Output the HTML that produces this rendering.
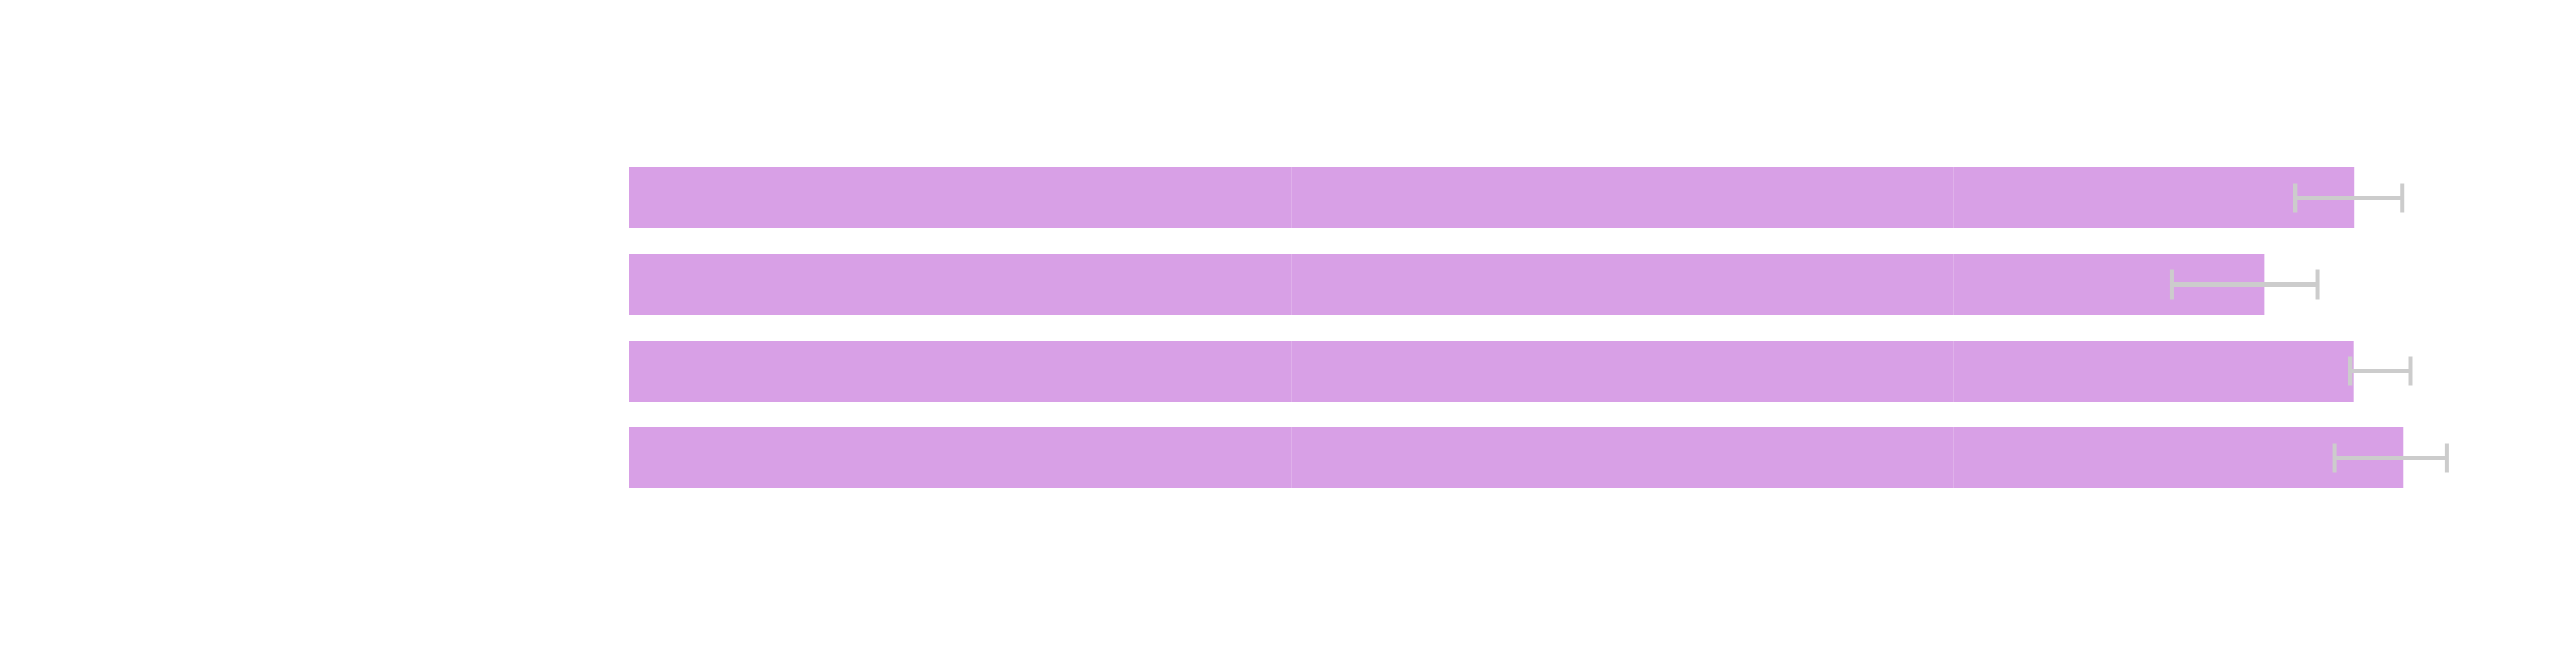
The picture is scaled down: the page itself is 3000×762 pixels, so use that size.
<!DOCTYPE html>
<html><head><meta charset="utf-8">
<style>html,body{margin:0;padding:0;background:#fff;}svg{display:block;}</style>
</head><body>
<svg id="chart" width="3000" height="762" xmlns="http://www.w3.org/2000/svg"></svg>
<script>
const categories = ["a", "b", "c", "d"];
const values = [26.06, 24.7, 26.04, 26.8];
const errLow = [25.16, 23.3, 25.99, 25.76];
const errHigh = [26.78, 25.5, 26.9, 27.45];
const gridTicks = [10, 20];

const svg = document.getElementById('chart');
const NS = 'http://www.w3.org/2000/svg';
const x0 = 733, pxPerUnit = 77.1;
const xScale = v => x0 + v * pxPerUnit;
const bandTop = 195, bandStep = 101, barH = 71;
const yScale = i => bandTop + i * bandStep;

function mk(tag, attrs) {
  const e = document.createElementNS(NS, tag);
  for (const k in attrs) e.setAttribute(k, attrs[k]);
  svg.appendChild(e);
  return e;
}

categories.forEach((c, i) => {
  const r = mk('rect', {x: x0, y: yScale(i), width: xScale(values[i]) - x0, height: barH, fill: '#d8a0e6'});
  
  
});

gridTicks.forEach(t => {
  const l = mk('line', {x1: xScale(t), x2: xScale(t), y1: yScale(0), y2: yScale(categories.length - 1) + barH, stroke: 'rgba(255,255,255,0.18)', 'stroke-width': 2});
  
  
});

categories.forEach((c, i) => {
  const cy = yScale(i) + barH / 2;
  const g = document.createElementNS(NS, 'g');
  
  
  g.setAttribute('stroke', '#cccccc');
  g.setAttribute('stroke-width', '5');
  svg.appendChild(g);
  const parts = [
    [xScale(errLow[i]), cy, xScale(errHigh[i]), cy],
    [xScale(errLow[i]), cy - 17, xScale(errLow[i]), cy + 17],
    [xScale(errHigh[i]), cy - 17, xScale(errHigh[i]), cy + 17]
  ];
  parts.forEach(p => {
    const l = document.createElementNS(NS, 'line');
    l.setAttribute('x1', p[0]); l.setAttribute('y1', p[1]);
    l.setAttribute('x2', p[2]); l.setAttribute('y2', p[3]);
    g.appendChild(l);
  });
});
</script>
</body></html>
